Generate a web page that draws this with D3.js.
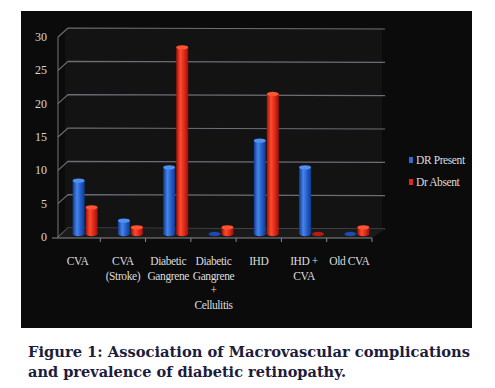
<!DOCTYPE html>
<html>
<head>
<meta charset="utf-8">
<script src="https://cdn.jsdelivr.net/npm/d3@7"></script>
<style>
    body { margin: 0; background: #fff; }
    svg { display: block; }
</style>
</head>
<body>
<div id="chart"></div>
<script>
const categories = ["CVA", "CVA\n(Stroke)", "Diabetic\nGangrene", "Diabetic\nGangrene\n+\nCellulitis", "IHD", "IHD +\nCVA", "Old CVA"];
const drPresent = [8, 2, 10, 0, 14, 10, 0];
const drAbsent = [4, 1, 28, 1, 21, 0, 1];
const seriesNames = ["DR Present", "Dr Absent"];
const yTicks = [0, 5, 10, 15, 20, 25, 30];
const captionLines = ["Figure 1: Association of Macrovascular complications", "and prevalence of diabetic retinopathy."];

const W = 495, H = 388;
const DX = 10, DY = -9; // 3d depth offset

const svg = d3.select("#chart").append("svg")
    .attr("width", W)
    .attr("height", H);

const defs = svg.append("defs");

function cylGrad(id, dark, mid, light) {
    const g = defs.append("linearGradient").attr("id", id)
        .attr("x1", "0").attr("x2", "1").attr("y1", "0").attr("y2", "0");
    g.append("stop").attr("offset", "0%").attr("stop-color", dark);
    g.append("stop").attr("offset", "35%").attr("stop-color", light);
    g.append("stop").attr("offset", "70%").attr("stop-color", mid);
    g.append("stop").attr("offset", "100%").attr("stop-color", dark);
}
cylGrad("blueCyl", "#103a8a", "#2259c4", "#4585ea");
cylGrad("redCyl", "#9a1208", "#d8261a", "#ff4a2e");

// black panel
svg.append("rect")
    .attr("x", 21).attr("y", 11)
    .attr("width", 451).attr("height", 317)
    .attr("fill", "#0b0b0b");

// scales
const x = d3.scaleBand()
    .domain(d3.range(categories.length))
    .range([55, 372]);

const y = d3.scaleLinear()
    .domain([0, 30])
    .range([237, 37]);

// back wall
svg.append("rect")
    .attr("x", 55 + DX).attr("y", y(30) + DY)
    .attr("width", 317).attr("height", y(0) - y(30))
    .attr("fill", "#131313");

// gridlines
const grid = svg.append("g").attr("class", "grid");
yTicks.forEach(t => {
    grid.append("polyline")
        .attr("points", `58,${y(t)} ${58 + DX},${y(t) + DY} ${385},${y(t) + DY + 1}`)
        .attr("fill", "none")
        .attr("stroke", t === 0 ? "#666" : "#6f6c78")
        .attr("stroke-width", 1.2);
});

// left axis + floor
svg.append("line")
    .attr("x1", 58).attr("x2", 58)
    .attr("y1", y(30)).attr("y2", y(0) + 1)
    .attr("stroke", "#777");
svg.append("polygon")
    .attr("points", `58,${y(0) + 1} ${58 + DX},${y(0) + DY} 385,${y(0) + DY + 1} 372,${y(0) + 1}`)
    .attr("fill", "#1a1a1a");
svg.append("line")
    .attr("x1", 52).attr("x2", 372)
    .attr("y1", y(0) + 1).attr("y2", y(0) + 1)
    .attr("stroke", "#888").attr("stroke-width", 1.2);

// category boundary ticks
d3.range(1, categories.length + 1).forEach(i => {
    const xx = i === categories.length ? 372 : x(i);
    svg.append("line")
        .attr("x1", xx).attr("x2", xx)
        .attr("y1", y(0) + 1).attr("y2", y(0) + 5)
        .attr("stroke", "#888");
});

// y tick labels
svg.append("g")
    .selectAll("text")
    .data(yTicks)
    .enter()
    .append("text")
    .attr("x", 47)
    .attr("y", d => y(d) + 4)
    .attr("text-anchor", "end")
    .attr("font-family", "Liberation Serif, serif")
    .attr("font-size", 12)
    .attr("fill", "#d8d8d8")
    .text(d => d);

// cylinders
const BW = 12, EH = 2.2;
const bars = [];
categories.forEach((c, i) => {
    bars.push({ i, v: drPresent[i], cx: x(i) + x.bandwidth() / 2 + 1, grad: "blueCyl", top: "#4f90f2", base: "#1c4cb0" });
    bars.push({ i, v: drAbsent[i], cx: x(i) + x.bandwidth() / 2 + 14, grad: "redCyl", top: "#ff5533", base: "#b81c10" });
});
const bg = svg.append("g").attr("class", "bars");
bars.forEach(b => {
    const base = y(0) - 3;
    const top = y(b.v) - 3;
    const g = bg.append("g");
    if (b.v === 0) {
        g.append("ellipse")
            .attr("cx", b.cx).attr("cy", base)
            .attr("rx", BW / 2).attr("ry", EH)
            .attr("fill", b.base);
        return;
    }
    g.append("ellipse")
        .attr("cx", b.cx).attr("cy", base)
        .attr("rx", BW / 2).attr("ry", EH)
        .attr("fill", `url(#${b.grad})`);
    g.append("rect")
        .attr("x", b.cx - BW / 2).attr("y", top)
        .attr("width", BW).attr("height", base - top)
        .attr("fill", `url(#${b.grad})`);
    g.append("ellipse")
        .attr("cx", b.cx).attr("cy", top)
        .attr("rx", BW / 2).attr("ry", EH)
        .attr("fill", b.top);
});

// category labels
const lab = svg.append("g");
categories.forEach((c, i) => {
    const cx = x(i) + x.bandwidth() / 2;
    const t = lab.append("text")
        .attr("x", cx)
        .attr("y", 265)
        .attr("text-anchor", "middle")
        .attr("font-family", "Liberation Serif, serif")
        .attr("font-size", 11.5)
        .attr("letter-spacing", -0.4)
        .attr("fill", "#dcdcdc");
    c.split("\n").forEach((line, k) => {
        t.append("tspan")
            .attr("x", cx)
            .attr("dy", k === 0 ? 0 : 14.6)
            .text(line);
    });
});

// legend
const legendColors = ["#2f6ad0", "#e0281a"];
const leg = svg.append("g");
seriesNames.forEach((s, i) => {
    const ly = 161 + i * 22;
    leg.append("rect")
        .attr("x", 409).attr("y", ly - 4)
        .attr("width", 4).attr("height", 6)
        .attr("fill", legendColors[i]);
    leg.append("text")
        .attr("x", 416).attr("y", ly + 3)
        .attr("font-family", "Liberation Serif, serif")
        .attr("font-size", 11.5)
        .attr("letter-spacing", -0.4)
        .attr("fill", "#dcdcdc")
        .text(s);
});

// caption
captionLines.forEach((line, i) => {
    svg.append("text")
        .attr("x", 28)
        .attr("y", 357 + i * 20)
        .attr("font-family", "DejaVu Serif, serif")
        .attr("font-weight", "bold")
        .attr("font-size", 15)
        .attr("fill", "#1c1c3c")
        .attr("textLength", i === 0 ? 442 : 318)
        .attr("lengthAdjust", "spacingAndGlyphs")
        .text(line);
});
</script>
</body>
</html>
